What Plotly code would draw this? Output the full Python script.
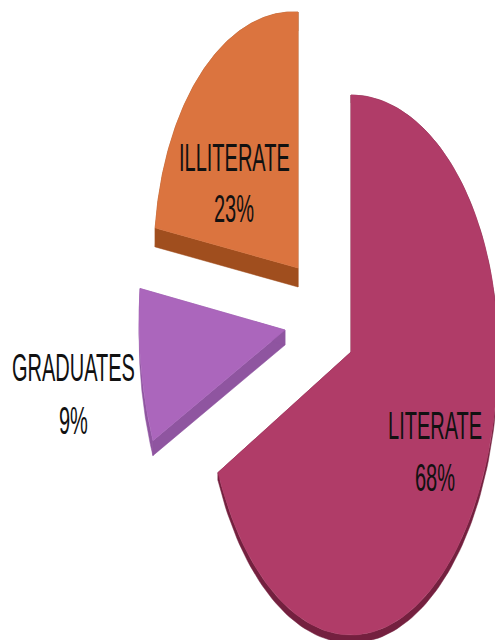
import numpy as np
import plotly.graph_objects as go

# --- data ---
labels = ["LITERATE", "ILLITERATE", "GRADUATES"]
shares = [68, 23, 9]

# --- styling / layout of each exploded wedge (screen-like axis units) ---
face_colors = ["#B03C68", "#DB743F", "#AB66BC"]
rim_colors = ["#74203F", "#A04E1E", "#8F55A0"]
apex_x = [351, 298, 285]
apex_y = [352, 268, 330]
radius_x = [147, 144, 146]
radius_up = [257, 256, 256]
radius_down = [283, 280, 280]
tilt = [0.0, 0.056, 0.065]
depth = [8, 19, 15]
label_x = [435, 234, 73]
label_y = [425, 157, 367]
pct_y = [477, 208, 420]

# wedges run clockwise from 12 o'clock: literate first, then graduates, then illiterate
order = [0, 2, 1]
starts = {}
pos = 0.0
for i in order:
    starts[i] = pos
    pos += shares[i] / sum(shares) * 2 * np.pi


def arc(i):
    t = np.linspace(starts[i], starts[i] + shares[i] / sum(shares) * 2 * np.pi, 160)
    dx = radius_x[i] * np.sin(t)
    c = np.cos(t)
    dy = np.where(c >= 0, -radius_up[i] * c, -radius_down[i] * c) + tilt[i] * dx
    return apex_x[i] + dx, apex_y[i] + dy


def band(xs, ys, d):
    return np.r_[xs, xs[::-1], xs[0]], np.r_[ys, ys[::-1] + d, ys[0]]


fig = go.Figure()
for i in range(len(labels)):
    ax, ay = arc(i)
    xs = np.r_[apex_x[i], ax, apex_x[i]]
    ys = np.r_[apex_y[i], ay, apex_y[i]]
    # rim: arc and both radial edges extruded downward, each its own shape
    edges = [(ax, ay),
             (np.array([apex_x[i], ax[0]]), np.array([apex_y[i], ay[0]])),
             (np.array([ax[-1], apex_x[i]]), np.array([ay[-1], apex_y[i]]))]
    for ex, ey in edges:
        rx, ry = band(ex, ey, depth[i])
        fig.add_trace(go.Scatter(x=rx, y=ry, mode="lines", fill="toself",
                                 fillcolor=rim_colors[i], line=dict(color=rim_colors[i], width=0.5),
                                 hoverinfo="skip", showlegend=False))
    fig.add_trace(go.Scatter(x=xs, y=ys, mode="lines", fill="toself", name=labels[i],
                             fillcolor=face_colors[i], line=dict(color=face_colors[i], width=0.5),
                             hoverinfo="name", showlegend=False))
    for text, y in ((labels[i], label_y[i]), (f"{shares[i]}%", pct_y[i])):
        fig.add_annotation(x=label_x[i], y=y, text=text, showarrow=False, xref="x", yref="y",
                           font=dict(family="Liberation Sans Narrow, Liberation Sans, sans-serif",
                                     size=20, color="#111111"))

fig.update_layout(width=495, height=640, autosize=False, margin=dict(l=0, r=0, t=0, b=0),
                  paper_bgcolor="white", plot_bgcolor="white",
                  xaxis=dict(range=[0, 495], visible=False, fixedrange=True),
                  yaxis=dict(range=[640, 0], visible=False, fixedrange=True))

post = """
document.body.style.margin = '0';
document.querySelectorAll('.annotation-text').forEach(function (t) {
  var b = t.getBBox(), cx = b.x + b.width / 2, cy = b.y + b.height / 2;
  t.setAttribute('transform', 'translate(' + cx + ',' + cy + ') scale(1,1.95) translate(' + (-cx) + ',' + (-cy) + ')');
});
"""
fig.write_html("out.html", post_script=post, config={"displayModeBar": False})
